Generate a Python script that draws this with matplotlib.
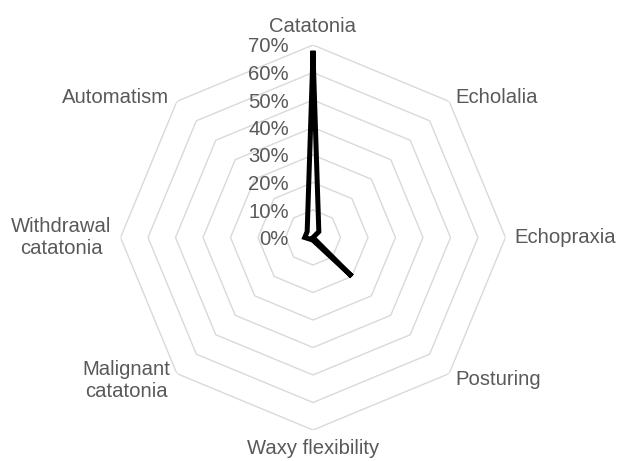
import numpy as np
import matplotlib
matplotlib.use("Agg")
import matplotlib.pyplot as plt

categories = ["Catatonia", "Echolalia", "Echopraxia", "Posturing", "Waxy flexibility",
              "Malignant\ncatatonia", "Withdrawal\ncatatonia", "Automatism"]
values = [67, 3, 0, 20, 1, 1, 3, 3]  # percent
tick_values = [0, 10, 20, 30, 40, 50, 60, 70]
tick_labels = ["0%", "10%", "20%", "30%", "40%", "50%", "60%", "70%"]

plt.rcParams['font.family'] = ['Liberation Sans', 'DejaVu Sans']
TXT = "#595959"
GRID = "#d9d9d9"
FS = 14.6

fig = plt.figure(figsize=(6.17, 4.61), dpi=100)
W, H = 617, 461
cx, cy, R = 313, 237.5, 192.5
ax = fig.add_axes([(cx - R) / W, (H - cy - R) / H, 2 * R / W, 2 * R / H], projection='polar')
ax.set_theta_zero_location('N')
ax.set_theta_direction(-1)
ax.set_ylim(0, 70)
ax.grid(False)
ax.set_xticks([])
ax.set_yticks([])
ax.spines['polar'].set_visible(False)
ax.patch.set_alpha(0)

n = len(categories)
theta = np.arange(n) * 2 * np.pi / n
theta_c = np.append(theta, theta[0])

# octagonal gridlines
for lv in tick_values[1:]:
    ax.plot(theta_c, [lv] * (n + 1), color=GRID, lw=1.0, zorder=1)

# data line
vals_c = values + [values[0]]
ax.plot(theta_c, vals_c, color="black", lw=3.6, solid_joinstyle='miter', zorder=3)

# category labels
offsets = [
    (0, 19, 'center', 'center'),
    (6, 4, 'left', 'center'),
    (9, 0, 'left', 'center'),
    (6, -6, 'left', 'center'),
    (0, -18, 'center', 'center'),
    (-7, -7, 'right', 'center'),
    (-9, 0, 'right', 'center'),
    (-8, 4, 'right', 'center'),
]
for t, lab, (dx, dy, ha, va) in zip(theta, categories, offsets):
    ax.annotate(lab, xy=(t, 70), xytext=(dx, dy), textcoords='offset pixels',
                ha=ha, va=va, ma='center', fontsize=FS, color=TXT,
                annotation_clip=False, linespacing=1.2)

# radial tick labels
for lv, lab in zip(tick_values, tick_labels):
    ax.annotate(lab, xy=(0, lv), xytext=(-24, -2), textcoords='offset pixels',
                ha='right', va='center', fontsize=FS, color=TXT, annotation_clip=False)

fig.savefig("out.png", dpi=100, facecolor="white")
